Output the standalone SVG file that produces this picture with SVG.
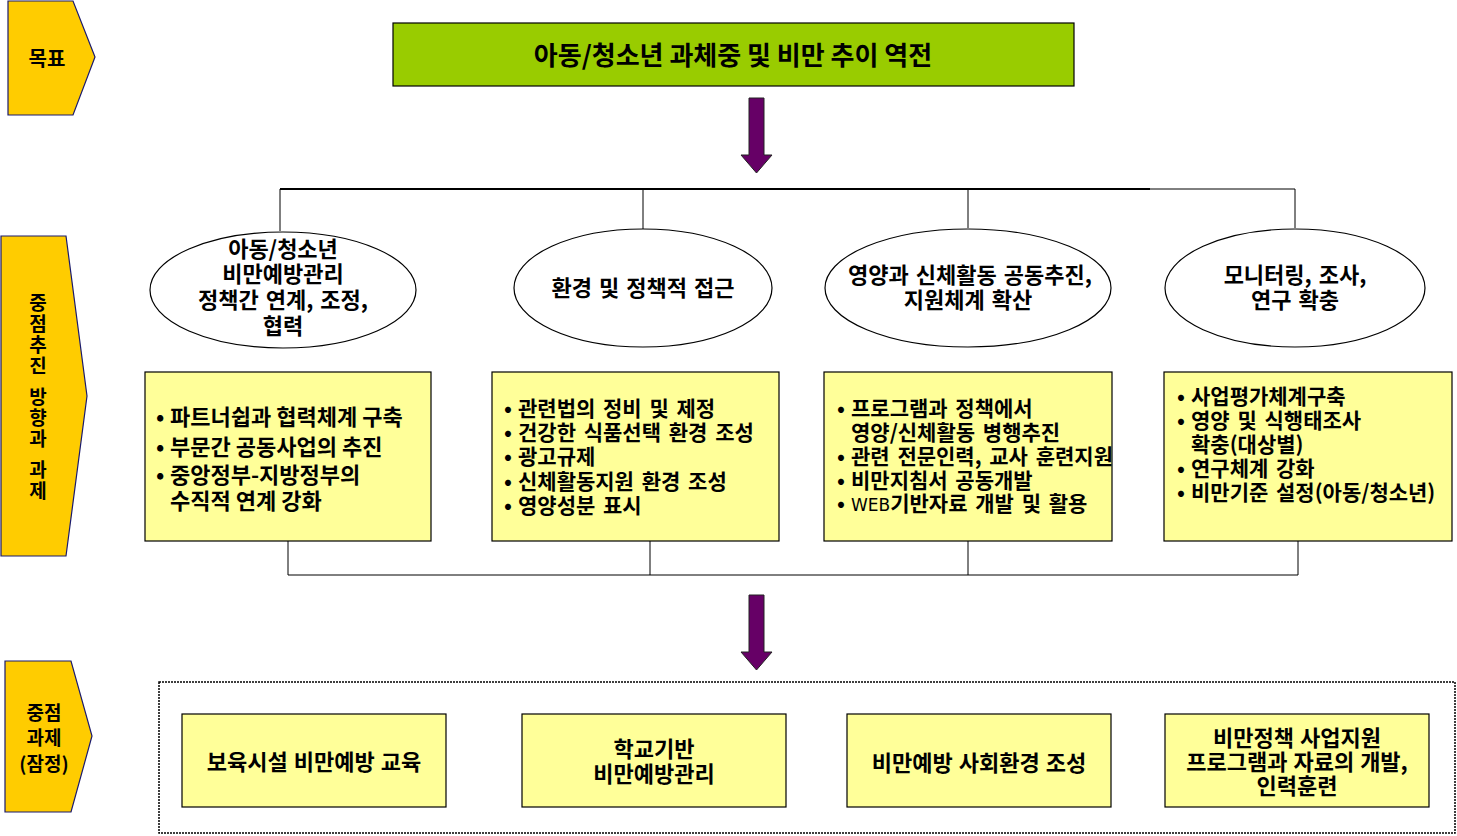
<svg xmlns="http://www.w3.org/2000/svg" width="1457" height="836" viewBox="0 0 1457 836">
<style>
text{font-family:"Noto Sans CJK KR","Liberation Sans",sans-serif;font-weight:bold;fill:#000}
.lbl{fill:#FFCC00;stroke:#1a1a6e;stroke-width:1.2}
.ell{fill:#fff;stroke:#000;stroke-width:1.2}
.box{fill:#FFFF99;stroke:#000;stroke-width:1.2}
.arr{fill:#660066;stroke:#222;stroke-width:1}
.ln{stroke:#000;stroke-width:1;fill:none}
.c{text-anchor:middle}
.t19{font-size:19px}
.t20{font-size:20px}
.b{font-size:21px;word-spacing:3px}
.e{font-size:22px;word-spacing:2px}
.k{font-size:22px;word-spacing:1px}
.t22{font-size:22px}
.thin{font-weight:normal;font-family:"DejaVu Sans","Liberation Sans",sans-serif;font-size:17px}
</style>
<rect width="1457" height="836" fill="#fff"/>

<g id="label-goal">
<polygon class="lbl" points="8,1 73,1 95,57 73,115 8,115"/>
<text class="c t20" x="47" y="66">목표</text>
</g>
<g id="label-direction">
<polygon class="lbl" points="1,236 66,236 87,396 66,556 1,556"/>
<text x="38" y="293" font-size="19" writing-mode="tb" letter-spacing="2" word-spacing="4">중점추진 방향과 과제</text>
</g>
<g id="label-tasks">
<polygon class="lbl" points="5,661 71,661 92,736 71,812 5,812"/>
<text class="c t19" x="44" y="720">중점</text>
<text class="c t19" x="44" y="745">과제</text>
<text class="c t19" x="44" y="771">(잠정)</text>
</g>

<g id="goal">
<rect x="393" y="23" width="681" height="63" fill="#99CC00" stroke="#000" stroke-width="1.2"/>
<text class="c" x="733" y="65" font-size="26">아동/청소년 과체중 및 비만 추이 역전</text>
</g>

<g id="connectors">
<polygon class="arr" points="749,98 764,98 764,155 772,155 756.5,173 741,155 749,155"/>
<line x1="280" y1="189" x2="1150" y2="189" stroke="#000" stroke-width="2"/>
<line class="ln" x1="1150" y1="189" x2="1295" y2="189"/>
<line class="ln" x1="280" y1="189" x2="280" y2="231"/>
<line class="ln" x1="643" y1="189" x2="643" y2="229"/>
<line class="ln" x1="968" y1="189" x2="968" y2="228"/>
<line class="ln" x1="1295" y1="189" x2="1295" y2="228"/>
<line class="ln" x1="288" y1="541" x2="288" y2="575"/>
<line class="ln" x1="650" y1="541" x2="650" y2="575"/>
<line class="ln" x1="968" y1="541" x2="968" y2="575"/>
<line class="ln" x1="1298" y1="541" x2="1298" y2="575"/>
<line class="ln" x1="288" y1="575" x2="1298" y2="575"/>
<polygon class="arr" points="749,595 764,595 764,652 772,652 756.5,670 741,652 749,652"/>
</g>

<g id="ellipse-1">
<ellipse class="ell" cx="283" cy="290" rx="133" ry="58"/>
<text class="c e" x="283" y="257">아동/청소년</text>
<text class="c e" x="283" y="282">비만예방관리</text>
<text class="c e" x="283" y="308">정책간 연계, 조정,</text>
<text class="c e" x="283" y="334">협력</text>
</g>
<g id="ellipse-2">
<ellipse class="ell" cx="643" cy="288" rx="129" ry="59"/>
<text class="c e" x="643" y="296">환경 및 정책적 접근</text>
</g>
<g id="ellipse-3">
<ellipse class="ell" cx="968" cy="288" rx="143" ry="59"/>
<text class="c e" x="970" y="283">영양과 신체활동 공동추진,</text>
<text class="c e" x="968" y="308">지원체계 확산</text>
</g>
<g id="ellipse-4">
<ellipse class="ell" cx="1295" cy="288" rx="130" ry="59"/>
<text class="c e" x="1295" y="283">모니터링, 조사,</text>
<text class="c e" x="1295" y="308">연구 확충</text>
</g>

<g id="box-1">
<rect class="box" x="145" y="372" width="286" height="169"/>
<g class="t22">
<text x="156" y="425">•</text><text x="170" y="425">파트너쉽과 협력체계 구축</text>
<text x="156" y="455">•</text><text x="170" y="455">부문간 공동사업의 추진</text>
<text x="156" y="483">•</text><text x="170" y="483">중앙정부-지방정부의</text>
<text x="170" y="509">수직적 연계 강화</text>
</g>
</g>
<g id="box-2">
<rect class="box" x="492" y="372" width="287" height="169"/>
<g class="b">
<text x="504" y="416">•</text><text x="518" y="416">관련법의 정비 및 제정</text>
<text x="504" y="440">•</text><text x="518" y="440">건강한 식품선택 환경 조성</text>
<text x="504" y="464">•</text><text x="518" y="464">광고규제</text>
<text x="504" y="489">•</text><text x="518" y="489">신체활동지원 환경 조성</text>
<text x="504" y="513">•</text><text x="518" y="513">영양성분 표시</text>
</g>
</g>
<g id="box-3">
<rect class="box" x="824" y="372" width="288" height="169"/>
<g class="b">
<text x="837" y="416">•</text><text x="851" y="416">프로그램과 정책에서</text>
<text x="851" y="440">영양/신체활동 병행추진</text>
<text x="837" y="464">•</text><text x="851" y="464">관련 전문인력, 교사 훈련지원</text>
<text x="837" y="488">•</text><text x="851" y="488">비만지침서 공동개발</text>
<text x="837" y="511">•</text><text x="851" y="511"><tspan class="thin">WEB</tspan>기반자료 개발 및 활용</text>
</g>
</g>
<g id="box-4">
<rect class="box" x="1164" y="372" width="288" height="169"/>
<g class="b">
<text x="1177" y="404">•</text><text x="1191" y="404">사업평가체계구축</text>
<text x="1177" y="428">•</text><text x="1191" y="428">영양 및 식행태조사</text>
<text x="1191" y="452">확충(대상별)</text>
<text x="1177" y="476">•</text><text x="1191" y="476">연구체계 강화</text>
<text x="1177" y="500">•</text><text x="1191" y="500">비만기준 설정(아동/청소년)</text>
</g>
</g>

<g id="tasks-frame">
<rect x="159" y="682" width="1296" height="151" fill="none" stroke="#000" stroke-width="1.5" stroke-dasharray="2,1"/>
</g>
<g id="task-1">
<rect class="box" x="182" y="714" width="264" height="93"/>
<text class="c k" x="314" y="770">보육시설 비만예방 교육</text>
</g>
<g id="task-2">
<rect class="box" x="522" y="714" width="264" height="93"/>
<text class="c k" x="654" y="757">학교기반</text>
<text class="c k" x="654" y="782">비만예방관리</text>
</g>
<g id="task-3">
<rect class="box" x="847" y="714" width="264" height="93"/>
<text class="c k" x="979" y="771">비만예방 사회환경 조성</text>
</g>
<g id="task-4">
<rect class="box" x="1165" y="714" width="264" height="93"/>
<text class="c k" x="1297" y="746">비만정책 사업지원</text>
<text class="c k" x="1297" y="770">프로그램과 자료의 개발,</text>
<text class="c k" x="1297" y="794">인력훈련</text>
</g>
</svg>
